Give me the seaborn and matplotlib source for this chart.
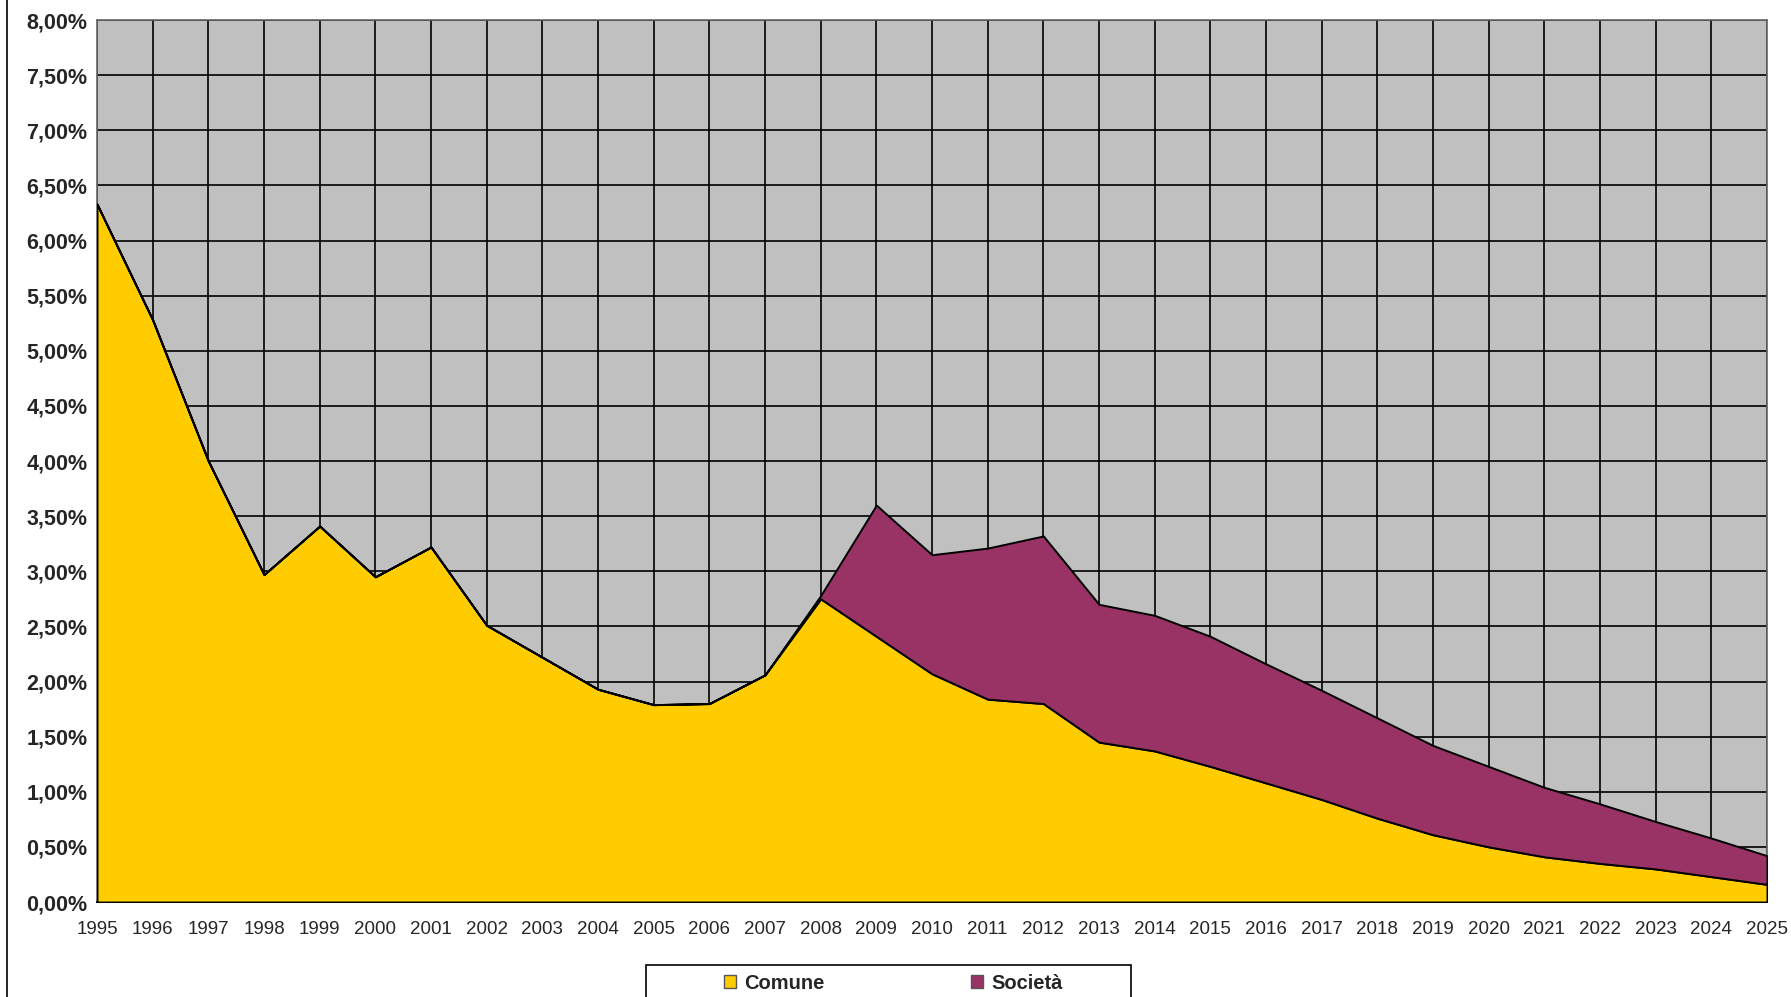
import numpy as np
import pandas as pd
import matplotlib
matplotlib.use("Agg")
import matplotlib.pyplot as plt
import seaborn as sns
from matplotlib.ticker import FuncFormatter, MultipleLocator
from matplotlib.lines import Line2D
from matplotlib.patches import Rectangle, Patch

# Data (percent values)
years = list(range(1995, 2026))
comune = [6.33, 5.28, 4.00, 2.97, 3.41, 2.95, 3.22, 2.51, 2.22, 1.93,
          1.79, 1.80, 2.06, 2.75, 2.41, 2.07, 1.84, 1.80, 1.45, 1.37,
          1.23, 1.08, 0.93, 0.76, 0.61, 0.50, 0.41, 0.35, 0.30, 0.23, 0.16]
totale = [6.33, 5.28, 4.00, 2.97, 3.41, 2.95, 3.22, 2.51, 2.22, 1.93,
          1.79, 1.80, 2.06, 2.78, 3.60, 3.15, 3.21, 3.32, 2.70, 2.60,
          2.41, 2.16, 1.92, 1.67, 1.42, 1.23, 1.04, 0.89, 0.73, 0.58, 0.42]
societa = [t - c for t, c in zip(totale, comune)]
series_names = ["Comune", "Società"]
series_colors = ["#FFCC00", "#993366"]

df = pd.DataFrame({"anno": years, "Comune": comune, "Società": societa})

sns.set_style("white")
plt.rcParams["font.family"] = ["Liberation Sans", "DejaVu Sans"]

W, H = 1791, 997
fig = plt.figure(figsize=(W / 100, H / 100), dpi=100)
ax = fig.add_axes([97 / W, 1 - 902 / H, (1767 - 97) / W, (902 - 20) / H])
ax.set_facecolor("#C0C0C0")

ax.stackplot(df["anno"], df["Comune"], df["Società"],
             colors=series_colors, labels=series_names,
             edgecolor="black", linewidth=1.4, zorder=3)

ax.set_xlim(1995, 2025)
ax.set_ylim(0, 8)
ax.xaxis.set_major_locator(MultipleLocator(1))
ax.yaxis.set_major_locator(MultipleLocator(0.5))
ax.yaxis.set_major_formatter(FuncFormatter(lambda v, p: f"{v:.2f}%".replace(".", ",")))
ax.grid(True, color="black", linewidth=1.2, zorder=1)
ax.set_axisbelow(True)

ax.tick_params(axis="both", direction="out", length=5, width=1, color="black")
ax.tick_params(axis="y", labelsize=15.5, pad=2)
ax.tick_params(axis="x", labelsize=13.5, pad=9)
for lab in ax.get_yticklabels():
    lab.set_fontweight("bold")

for side in ["top", "right", "left"]:
    ax.spines[side].set_color("#666666")
    ax.spines[side].set_linewidth(1.2)
ax.spines["bottom"].set_color("black")
ax.spines["bottom"].set_linewidth(1.4)

# chart area border on the left
fig.add_artist(Line2D([7 / W, 7 / W], [0, 1], color="black", linewidth=1.2))

# legend box (runs past the bottom edge, as in the original)
fig.add_artist(Rectangle((646 / W, -0.05), (1131 - 646) / W, 0.05 + 1 - 965 / H,
                         transform=fig.transFigure, facecolor="white",
                         edgecolor="black", linewidth=1.2))

for name, color, x0 in zip(series_names, series_colors, [724, 971]):
    handle = Patch(facecolor=color, edgecolor="#555555", linewidth=1.0)
    fig.legend([handle], [name], loc="center left",
               bbox_to_anchor=(x0 / W, 1 - 983 / H),
               frameon=False, borderpad=0, borderaxespad=0,
               handlelength=0.6, handleheight=0.6, handletextpad=0.4,
               prop={"weight": "bold", "size": 14.5})

fig.savefig("out.png", dpi=100)
